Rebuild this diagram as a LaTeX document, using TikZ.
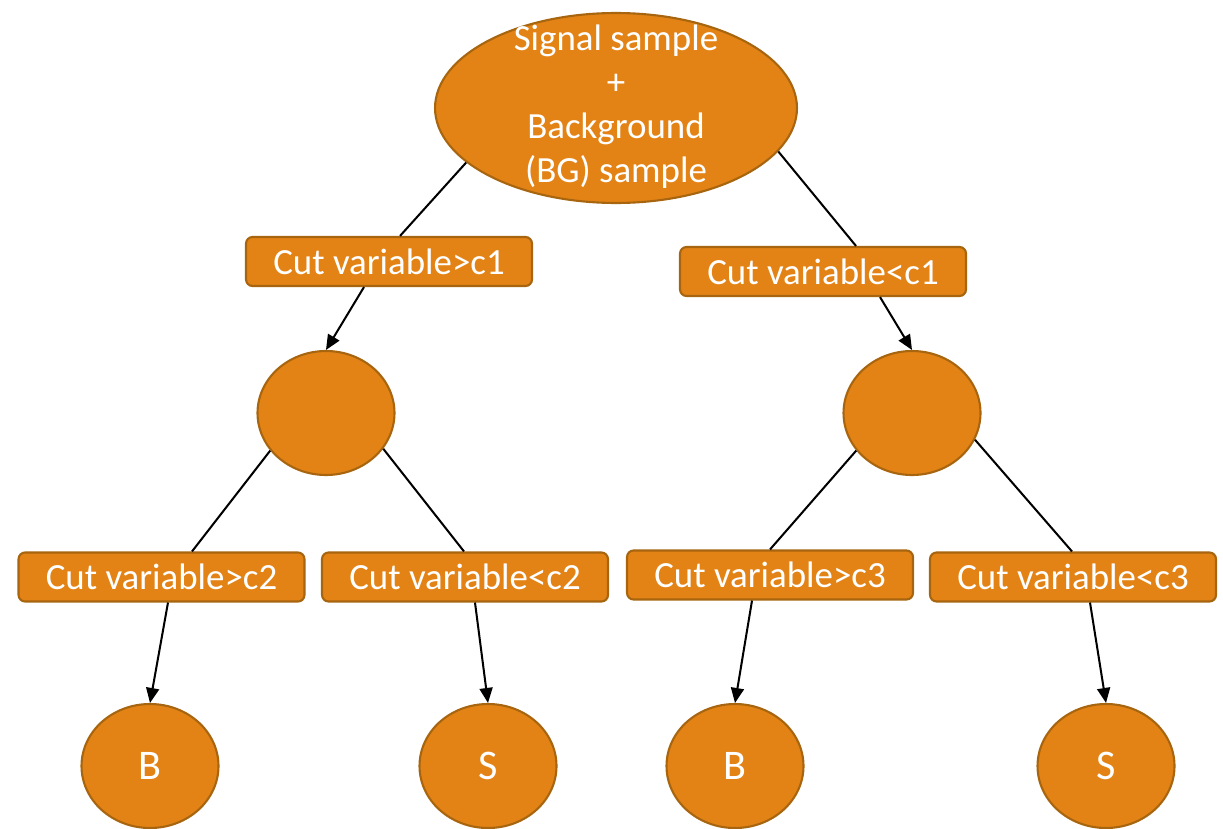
\documentclass[tikz,border=0pt]{standalone}
\usepackage{fontspec}
\setmainfont{Carlito}
\usetikzlibrary{shapes.geometric,arrows.meta}
\definecolor{orng}{HTML}{E38315}
\definecolor{bordc}{HTML}{A8650F}
\tikzset{
  cutbox/.style={draw=bordc, fill=orng, line width=1.2pt, rounded corners=0.13cm,
    minimum width=5.72cm, minimum height=0.98cm, inner sep=0pt, text=white,
    font=\fontsize{21}{25}\selectfont},
  blob/.style={ellipse, draw=bordc, fill=orng, line width=1.2pt, inner sep=0pt,
    minimum width=2.74cm, minimum height=2.48cm, text=white,
    font=\fontsize{24}{28}\selectfont},
  conn/.style={line width=1.15pt, black},
  arr/.style={conn, -{Triangle[length=0.3cm,width=0.26cm]}}
}
\begin{document}
\begin{tikzpicture}[x=0.02cm,y=-0.02cm]
\useasboundingbox (0,0) rectangle (1223,828);
% top ellipse
\node[ellipse, draw=bordc, fill=orng, line width=1.2pt, inner sep=0pt,
  minimum width=7.24cm, minimum height=3.8cm] (top) at (616,108) {};
\node[text=white, align=center, font=\fontsize{21}{25}\selectfont, inner sep=0pt]
  (toptext) at (616,107) {Signal sample\\+\\Background\\(BG) sample};
% level-1 boxes
\node[cutbox] (b1) at (389,261.5) {Cut variable>c1};
\node[cutbox] (b2) at (823,271.5) {Cut variable<c1};
% middle circles
\node[blob] (m1) at (326,413) {};
\node[blob] (m2) at (912,413) {};
% level-2 boxes
\node[cutbox] (b3) at (161.5,577) {Cut variable>c2};
\node[cutbox] (b4) at (465,577) {Cut variable<c2};
\node[cutbox] (b5) at (770,575) {Cut variable>c3};
\node[cutbox] (b6) at (1073,577) {Cut variable<c3};
% leaves
\node[blob] (l1) at (150,766) {B};
\node[blob] (l2) at (488,766) {S};
\node[blob] (l3) at (735,766) {B};
\node[blob] (l4) at (1106,766) {S};
% connectors
\draw[conn] (top.200.8) -- ([shift={(11,0)}]b1.north);
\draw[arr] ([shift={(-25,0)}]b1.south) -- (m1.north);
\draw[conn] (top.345.5) -- ([shift={(33,0)}]b2.north);
\draw[arr] ([shift={(57,0)}]b2.south) -- (m2.north);
\draw[conn] (m1.214.4) -- ([shift={(30.5,0)}]b3.north);
\draw[arr] ([shift={(6.5,0)}]b3.south) -- (l1.north);
\draw[conn] (m1.328) -- ([shift={(-1,0)}]b4.north);
\draw[arr] ([shift={(10,0)}]b4.south) -- (l2.north);
\draw[conn] (m2.214.6) -- (b5.north);
\draw[arr] ([shift={(-18,0)}]b5.south) -- (l3.north);
\draw[conn] (m2.337.4) -- ([shift={(-1,0)}]b6.north);
\draw[arr] ([shift={(17,0)}]b6.south) -- (l4.north);
\end{tikzpicture}
\end{document}
